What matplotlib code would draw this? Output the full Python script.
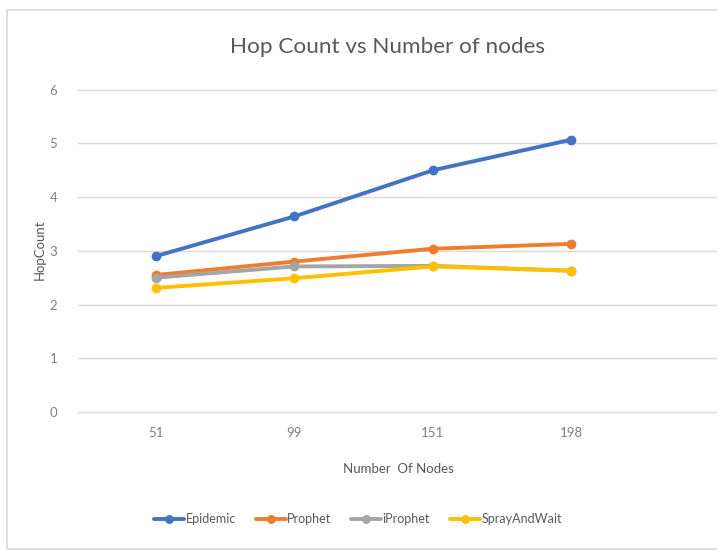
import matplotlib
matplotlib.use("Agg")
import matplotlib.pyplot as plt
from matplotlib.patches import Rectangle

# Data
nodes = ["51", "99", "151", "198"]
epidemic = [2.9, 3.64, 4.5, 5.07]
prophet = [2.55, 2.8, 3.04, 3.13]
iprophet = [2.5, 2.71, 2.72, 2.63]
spray_and_wait = [2.31, 2.49, 2.71, 2.63]
y_ticks = [0, 1, 2, 3, 4, 5, 6]

series_names = ["Epidemic", "Prophet", "iProphet", "SprayAndWait"]
series_values = [epidemic, prophet, iprophet, spray_and_wait]
colors = ["#4472C4", "#ED7D31", "#A5A5A5", "#FFC000"]

plt.rcParams["font.family"] = ["Lato", "DejaVu Sans"]

W, H = 717, 553
fig = plt.figure(figsize=(W / 100, H / 100), dpi=100)
fig.patch.set_facecolor("white")

# chart frame
fig.patches.append(Rectangle((7 / W, 1 - 549 / H), (W + 10 - 7) / W, (549 - 10) / H,
                             transform=fig.transFigure, fill=False,
                             edgecolor="#D9D9D9", linewidth=1.2))

ax = fig.add_axes([78 / W, 1 - 412 / H, (W - 78) / W, (412 - 89.7) / H])
x = list(range(len(nodes)))
for name, vals, c in zip(series_names, series_values, colors):
    ax.plot(x, vals, color=c, linewidth=2.8, marker="o", markersize=6,
            label=name, solid_capstyle="round", zorder=3)

ax.set_ylim(0, 6)
ax.set_yticks(y_ticks)
ax.set_xlim(-0.56, 4.05)
ax.set_xticks(x)
ax.set_xticklabels(nodes)
for t in y_ticks:
    ax.axhline(t, color="#D9D9D9", linewidth=1.0, clip_on=False, zorder=1)
for s in ax.spines.values():
    s.set_visible(False)
ax.tick_params(axis="both", length=0, colors="#7F7F7F", labelsize=9.5)
ax.tick_params(axis="y", pad=15)
ax.tick_params(axis="x", pad=11)

fig.text(387 / W, 1 - 47 / H, "Hop Count vs Number of nodes", ha="center", va="center",
         fontsize=16.2, color="#595959")
fig.text(398 / W, 1 - 469 / H, "Number  Of Nodes", ha="center", va="center",
         fontsize=9.5, color="#595959")
fig.text(40 / W, 1 - 250 / H, "HopCount", ha="center", va="center", rotation=90,
         fontsize=9.5, color="#595959")

handles, labels = ax.get_legend_handles_labels()
fig.legend(handles, labels, loc="center", bbox_to_anchor=(358 / W, 1 - 519 / H),
           ncol=4, frameon=False, fontsize=9, handlelength=2.4, handletextpad=0.1,
           columnspacing=1.6, labelcolor="#595959", markerscale=0.9)

fig.savefig("out.png", dpi=100, facecolor="white")
